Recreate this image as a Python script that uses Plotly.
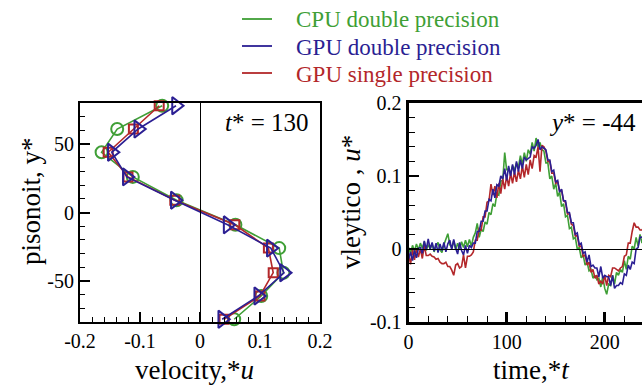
import plotly.graph_objects as go

# ---------------- data ----------------
series_names = ["CPU double precision", "GPU double precision", "GPU single precision"]

# left panel: velocity profile at t* = 130
profile_y = [78, 61, 44, 26, 9, -9, -26, -44, -61, -78]
profile_cpu_double = [-0.063, -0.138, -0.164, -0.112, -0.039, 0.059, 0.132, 0.139, 0.102, 0.057]
profile_gpu_single = [-0.068, -0.111, -0.153, -0.120, -0.042, 0.058, 0.114, 0.122, 0.100, 0.040]
profile_gpu_double = [-0.040, -0.103, -0.147, -0.122, -0.042, 0.046, 0.118, 0.140, 0.097, 0.037]

# right panel: time history at y* = -44
time_t = list(range(0, 241, 2))
hist_cpu_double = [
    0.002, -0.006, 0.005, -0.003, 0.007, -0.001,
    0.008, 0.001, 0.010, -0.002, 0.006, 0.000,
    0.007, -0.004, 0.004, 0.009, -0.001, -0.005,
    0.006, 0.014, 0.021, 0.006, 0.002, 0.011,
    -0.001, 0.008, 0.000, 0.010, 0.002, 0.012,
    0.003, 0.013, 0.004, 0.016, 0.022, 0.035,
    0.016, 0.027, 0.024, 0.037, 0.034, 0.050,
    0.047, 0.062, 0.058, 0.076, 0.074, 0.093,
    0.094, 0.132, 0.108, 0.110, 0.102, 0.114,
    0.108, 0.118, 0.112, 0.128, 0.116, 0.132,
    0.120, 0.136, 0.130, 0.146, 0.134, 0.152,
    0.140, 0.146, 0.136, 0.134, 0.118, 0.118,
    0.096, 0.100, 0.082, 0.090, 0.072, 0.078,
    0.058, 0.062, 0.044, 0.046, 0.028, 0.030,
    0.014, 0.016, 0.000, 0.002, -0.012, -0.008,
    -0.022, -0.018, -0.030, -0.028, -0.040, -0.036,
    -0.042, -0.040, -0.052, -0.038, -0.054, -0.062,
    -0.048, -0.050, -0.036, -0.048, -0.032, -0.036,
    -0.028, -0.032, -0.016, -0.028, -0.010, -0.014,
    0.004, 0.000, 0.016, 0.004, 0.020, 0.008,
    0.022,
]
hist_gpu_double = [
    -0.014, -0.004, -0.016, -0.002, -0.012, 0.001,
    0.002, -0.006, 0.011, -0.001, 0.014, 0.000,
    0.009, -0.003, 0.008, -0.005, 0.007, -0.002,
    0.009, -0.004, 0.007, 0.012, -0.001, 0.013,
    0.001, -0.007, 0.009, -0.002, -0.008, 0.005,
    -0.006, 0.005, 0.002, 0.008, 0.008, 0.024,
    0.024, 0.038, 0.038, 0.052, 0.052, 0.068,
    0.066, 0.082, 0.070, 0.088, 0.086, 0.100,
    0.096, 0.110, 0.094, 0.114, 0.100, 0.116,
    0.102, 0.120, 0.106, 0.122, 0.110, 0.126,
    0.122, 0.124, 0.126, 0.140, 0.138, 0.142,
    0.150, 0.136, 0.140, 0.138, 0.136, 0.122,
    0.122, 0.106, 0.108, 0.092, 0.094, 0.078,
    0.082, 0.066, 0.066, 0.050, 0.050, 0.036,
    0.036, 0.020, 0.022, 0.006, 0.008, -0.006,
    -0.004, -0.018, -0.008, -0.024, -0.022, -0.026,
    -0.026, -0.038, -0.024, -0.040, -0.036, -0.038,
    -0.038, -0.050, -0.036, -0.054, -0.050, -0.050,
    -0.046, -0.048, -0.034, -0.036, -0.022, -0.028,
    -0.018, -0.020, 0.000, 0.002, 0.016, 0.016,
    0.020,
]
hist_gpu_single = [
    -0.006, -0.021, -0.001, -0.015, 0.001, -0.011,
    0.000, -0.013, 0.005, -0.009, -0.009, -0.007,
    -0.010, -0.011, -0.014, -0.013, -0.018, -0.020,
    -0.020, -0.018, -0.024, -0.024, -0.029, -0.036,
    -0.022, -0.020, -0.026, -0.024, -0.008, -0.026,
    -0.010, -0.010, -0.008, -0.004, 0.012, 0.012,
    0.028, 0.026, 0.044, 0.044, 0.064, 0.066,
    0.089, 0.074, 0.086, 0.070, 0.090, 0.076,
    0.096, 0.082, 0.100, 0.086, 0.104, 0.090,
    0.106, 0.092, 0.108, 0.096, 0.114, 0.098,
    0.116, 0.102, 0.122, 0.110, 0.128, 0.126,
    0.140, 0.106, 0.142, 0.140, 0.134, 0.120,
    0.120, 0.104, 0.104, 0.090, 0.092, 0.080,
    0.080, 0.066, 0.064, 0.048, 0.048, 0.034,
    0.032, 0.018, 0.018, 0.004, 0.004, -0.010,
    -0.008, -0.022, -0.018, -0.032, -0.028, -0.040,
    -0.036, -0.048, -0.044, -0.048, -0.036, -0.050,
    -0.036, -0.038, -0.026, -0.026, -0.028, -0.030,
    -0.026, -0.024, -0.010, -0.008, 0.008, 0.008,
    0.024, 0.036, 0.030, 0.030, 0.026, 0.026,
    0.030,
]

left_x_tickvals = [-0.2, -0.1, 0, 0.1, 0.2]
left_x_ticktext = ["-0.2", "-0.1", "0", "0.1", "0.2"]
left_y_tickvals = [-50, 0, 50]
left_y_ticktext = ["-50", "0", "50"]
right_x_tickvals = [0, 100, 200]
right_x_ticktext = ["0", "100", "200"]
right_y_tickvals = [-0.1, 0, 0.1, 0.2]
right_y_ticktext = ["-0.1", "0", "0.1", "0.2"]

# ---------------- style / layout ----------------
W, H = 642, 385
PLOT_L, PLOT_R, PLOT_T, PLOT_B = 80, 642, 103, 322   # plot area in window pixels
ML, MR, MT, MB = PLOT_L, W - PLOT_R, PLOT_T, H - PLOT_B
PW, PH = W - ML - MR, H - MT - MB
FONT = "Liberation Serif"
GREEN, BLUE, RED = "#3f9f36", "#2b1f93", "#b3272a"


def px(x):
    return (x - PLOT_L) / PW


def py(y):
    return (PLOT_B - y) / PH


fig = go.Figure()

# left panel traces
for xs, color, sym, size in [
    (profile_cpu_double, GREEN, "circle-open", 12),
    (profile_gpu_single, RED, "square-open", 9),
    (profile_gpu_double, BLUE, "triangle-right-open", 15),
]:
    fig.add_trace(go.Scatter(
        x=xs, y=profile_y, mode="lines+markers",
        line=dict(color=color, width=1.6),
        marker=dict(symbol=sym, size=size, color=color, line=dict(color=color, width=2)),
        cliponaxis=False, showlegend=False, xaxis="x", yaxis="y", hoverinfo="skip",
    ))

# right panel traces
for ys, color, name in [
    (hist_cpu_double, GREEN, series_names[0]),
    (hist_gpu_single, RED, series_names[2]),
    (hist_gpu_double, BLUE, series_names[1]),
]:
    fig.add_trace(go.Scatter(
        x=time_t, y=ys, mode="lines", name=name,
        line=dict(color=color, width=1.6),
        showlegend=False, xaxis="x2", yaxis="y2", hoverinfo="skip",
    ))

tickfont = dict(family=FONT, size=20, color="black")
common = dict(showgrid=False, ticks="inside", tickcolor="black", tickfont=tickfont,
              linecolor="black", tickmode="array", automargin=False, showline=True)

fig.update_layout(
    template="none",
    width=W, height=H, autosize=False,
    font=dict(family=FONT),
    margin=dict(l=ML, r=MR, t=MT, b=MB, pad=0, autoexpand=False),
    paper_bgcolor="white", plot_bgcolor="white",
    showlegend=False,
    xaxis=dict(domain=[0, (320 - PLOT_L) / PW], range=[-0.2, 0.2], tickvals=left_x_tickvals,
               ticktext=left_x_ticktext, ticklen=10, tickwidth=2, linewidth=2, mirror=True,
               zeroline=True, zerolinecolor="black", zerolinewidth=1,
               minor=dict(tickmode="linear", tick0=0, dtick=0.02, ticks="inside",
                          ticklen=5, tickwidth=1, tickcolor="black"),
               anchor="y", **common),
    yaxis=dict(domain=[0, 1], range=[-80, 80], tickvals=left_y_tickvals,
               ticktext=left_y_ticktext, ticklen=10, tickwidth=2, linewidth=2, mirror=True,
               zeroline=False,
               minor=dict(tickmode="linear", tick0=0, dtick=10, ticks="inside",
                          ticklen=5, tickwidth=1, tickcolor="black"),
               anchor="x", **common),
    xaxis2=dict(domain=[(408.6 - PLOT_L) / PW, 1], range=[0, 238], tickvals=right_x_tickvals,
                ticktext=right_x_ticktext, ticklen=10, tickwidth=3, linewidth=3, mirror=True,
                zeroline=False,
                minor=dict(tickmode="linear", tick0=0, dtick=20, ticks="inside",
                           ticklen=6, tickwidth=1, tickcolor="black"),
                anchor="y2", **common),
    yaxis2=dict(domain=[0, 1], range=[-0.1, 0.2], tickvals=right_y_tickvals,
                ticktext=right_y_ticktext, ticklen=10, tickwidth=2, linewidth=3, mirror=False,
                zeroline=True, zerolinecolor="black", zerolinewidth=1,
                minor=dict(tickmode="linear", tick0=0, dtick=0.02, ticks="inside",
                           ticklen=6, tickwidth=1, tickcolor="black"),
                anchor="x2", **common),
)

# zero lines drawn over the traces, where the plotly version supports it
for ax in ("xaxis", "yaxis2"):
    try:
        fig.layout[ax].zerolinelayer = "above traces"
    except (ValueError, AttributeError):
        pass

annos = []
title_font = dict(family=FONT, size=27, color="black")
annos.append(dict(text="pisonoit, y*", x=px(31), y=py(201), textangle=-90, font=title_font))
annos.append(dict(text="vleytico , <i>u</i>*", x=px(351), y=py(202), textangle=-90, font=title_font))
annos.append(dict(text="velocity,*<i>u</i>", x=px(194), y=py(370), font=title_font))
annos.append(dict(text="time,*<i>t</i>", x=px(531), y=py(370), font=title_font))
annos.append(dict(text="<i>t</i>* = 130", x=px(311), y=py(122), xanchor="right",
                  font=dict(family=FONT, size=25, color="black")))
annos.append(dict(text="<i>y</i>* = -44", x=px(638), y=py(122), xanchor="right",
                  font=dict(family=FONT, size=25, color="black")))

# legend (manual)
leg_rows = [(series_names[0], GREEN, 20), (series_names[1], BLUE, 47), (series_names[2], RED, 74)]
shapes = []
for name, color, yy in leg_rows:
    shapes.append(dict(type="line", xref="paper", yref="paper", x0=px(242), x1=px(272),
                       y0=py(yy - 1), y1=py(yy - 1), line=dict(color=color, width=1.8)))
    annos.append(dict(text=name, x=px(294), y=py(yy), xanchor="left",
                      font=dict(family=FONT, size=23, color=color)))

for a in annos:
    a.setdefault("xref", "paper")
    a.setdefault("yref", "paper")
    a.setdefault("showarrow", False)
    a.setdefault("xanchor", "center")
    a.setdefault("yanchor", "middle")

fig.update_layout(annotations=annos, shapes=shapes)
fig.write_html(
    "out.html",
    config={"displayModeBar": False, "responsive": False},
    post_script=("document.body.style.margin='0';"
                 "document.documentElement.style.margin='0';"
                 "document.documentElement.style.overflow='hidden';"),
)
